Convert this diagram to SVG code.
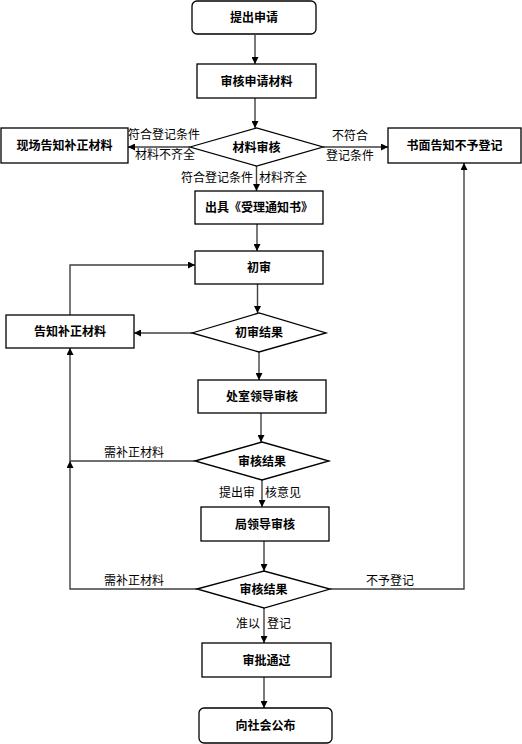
<svg xmlns="http://www.w3.org/2000/svg" width="522" height="744" viewBox="0 0 522 744">
<defs>
<marker id="ah" viewBox="0 0 10 10" refX="10" refY="5" markerWidth="7" markerHeight="7" markerUnits="userSpaceOnUse" orient="auto">
<path d="M0,0 L10,5 L0,10 z" fill="#000"/>
</marker>
<style>
.box{fill:#fff;stroke:#000;stroke-width:1.3}
.nt{font-family:"Noto Sans CJK SC","Liberation Sans",sans-serif;font-size:12px;font-weight:bold;fill:#000;text-anchor:middle}
.lb{font-family:"Noto Sans CJK SC","Liberation Sans",sans-serif;font-size:12px;fill:#000}
.cn{fill:none;stroke:#404040;stroke-width:1.4;marker-end:url(#ah)}
</style>
</defs>
<rect width="522" height="744" fill="#fff"/>
<g id="connectors">
<path class="cn" d="M255,35 V64"/>
<path class="cn" d="M255,98 V128"/>
<path class="cn" d="M190,147 H128"/>
<path class="cn" d="M323,147 H388"/>
<path class="cn" d="M256.5,166 V191"/>
<path class="cn" d="M257,224 V251"/>
<path class="cn" d="M70,315 V265 H195"/>
<path class="cn" d="M257.5,284 V313"/>
<path class="cn" d="M192,333 H134"/>
<path class="cn" d="M259,352 V380"/>
<path class="cn" d="M261,413 V442"/>
<path class="cn" d="M195,461 H70 V348"/>
<path class="cn" d="M262,480 V507"/>
<path class="cn" d="M264,541 V571"/>
<path class="cn" d="M197,589 H70 V461"/>
<path class="cn" d="M330,589 H464 V163"/>
<path class="cn" d="M264,608 V643"/>
<path class="cn" d="M264,677 V708"/>
<text class="lb" x="128" y="139">符合登记条件</text>
<text class="lb" x="135" y="159">材料不齐全</text>
<text class="lb" x="332" y="140">不符合</text>
<text class="lb" x="326" y="160">登记条件</text>
<text class="lb" x="253" y="182" text-anchor="end">符合登记条件</text>
<text class="lb" x="259" y="182">材料齐全</text>
<text class="lb" x="104" y="457">需补正材料</text>
<text class="lb" x="255" y="497" text-anchor="end">提出审</text>
<text class="lb" x="265" y="497">核意见</text>
<text class="lb" x="104" y="585">需补正材料</text>
<text class="lb" x="366" y="585">不予登记</text>
<text class="lb" x="260" y="628" text-anchor="end">准以</text>
<text class="lb" x="267" y="628">登记</text>
</g>
<g id="n1"><rect class="box" x="192" y="1" width="124" height="33" rx="5"/><text class="nt" x="254" y="22">提出申请</text></g>
<g id="n2"><rect class="box" x="197" y="64" width="119" height="34"/><text class="nt" x="256.5" y="85.5">审核申请材料</text></g>
<g id="n3"><polygon class="box" points="190,147 256.5,128 323,147 256.5,166"/><text class="nt" x="256.5" y="151.5">材料审核</text></g>
<g id="n4"><rect class="box" x="1" y="128" width="127" height="35"/><text class="nt" x="64.5" y="150">现场告知补正材料</text></g>
<g id="n5"><rect class="box" x="388" y="128" width="133" height="35"/><text class="nt" x="454.5" y="150">书面告知不予登记</text></g>
<g id="n6"><rect class="box" x="195" y="191" width="128" height="33"/><text class="nt" x="259" y="212">出具《受理通知书》</text></g>
<g id="n7"><rect class="box" x="195" y="251" width="128" height="33"/><text class="nt" x="259" y="272">初审</text></g>
<g id="n8"><polygon class="box" points="192,333 259,313 326,333 259,352"/><text class="nt" x="259" y="337">初审结果</text></g>
<g id="n9"><rect class="box" x="6" y="315" width="128" height="33"/><text class="nt" x="70" y="336">告知补正材料</text></g>
<g id="n10"><rect class="box" x="198" y="380" width="128" height="33"/><text class="nt" x="262" y="401">处室领导审核</text></g>
<g id="n11"><polygon class="box" points="195,461 262,442 329,461 262,480"/><text class="nt" x="262" y="465.5">审核结果</text></g>
<g id="n12"><rect class="box" x="201" y="507" width="128" height="34"/><text class="nt" x="265" y="528.5">局领导审核</text></g>
<g id="n13"><polygon class="box" points="197,589 264,571 330,589 264,608"/><text class="nt" x="263.5" y="593.5">审核结果</text></g>
<g id="n14"><rect class="box" x="202" y="643" width="129" height="34"/><text class="nt" x="266.5" y="664.5">审批通过</text></g>
<g id="n15"><rect class="box" x="199" y="708" width="133" height="35" rx="5"/><text class="nt" x="265.5" y="730">向社会公布</text></g>
</svg>
